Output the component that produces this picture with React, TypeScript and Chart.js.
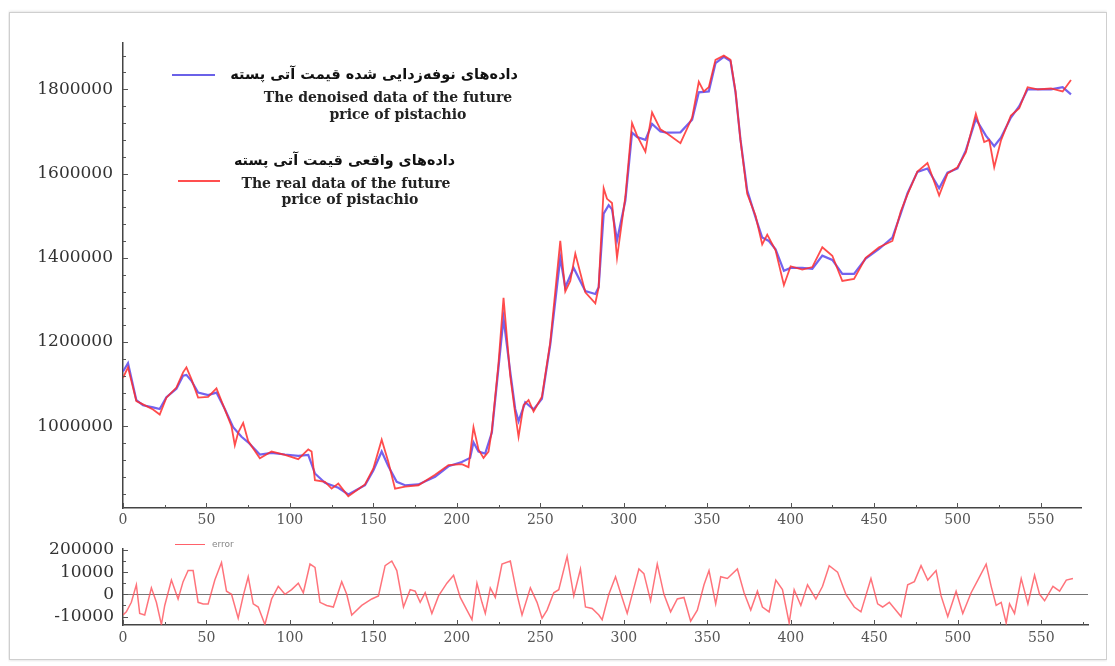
import React, { useEffect, useRef } from 'react';
import { Chart, registerables } from 'chart.js';

Chart.register(...registerables);

// ---------- data ----------
const denoisedX = [0, 3, 8, 12, 18, 22, 26, 32, 36, 38, 41, 45, 51, 56, 61, 66, 71, 75, 82, 89, 97, 105, 111, 115, 121, 129, 135, 145, 150, 155, 159, 164, 169, 177, 187, 195, 203, 208, 210, 213, 217, 221, 225, 228, 232, 235, 237, 241, 246, 251, 256, 262, 265, 270, 277, 283, 285, 288, 291, 293, 296, 301, 305, 308, 313, 317, 322, 326, 334, 341, 345, 351, 355, 360, 364, 367, 370, 374, 379, 383, 387, 391, 396, 400, 407, 413, 419, 425, 431, 438, 445, 453, 461, 466, 470, 476, 482, 489, 494, 500, 505, 511, 517, 522, 526, 532, 537, 542, 548, 556, 563, 568];
const denoisedY = [1130000, 1150000, 1062000, 1050000, 1045000, 1041000, 1069000, 1089000, 1120000, 1122000, 1108000, 1080000, 1074000, 1080000, 1041000, 998000, 975000, 962000, 933000, 937000, 933000, 930000, 932000, 888000, 866000, 854000, 838000, 860000, 895000, 940000, 905000, 868000, 860000, 862000, 880000, 905000, 915000, 925000, 962000, 940000, 935000, 985000, 1140000, 1256000, 1130000, 1041000, 1012000, 1057000, 1040000, 1065000, 1194000, 1400000, 1330000, 1376000, 1321000, 1314000, 1330000, 1505000, 1525000, 1515000, 1441000, 1536000, 1697000, 1687000, 1680000, 1718000, 1700000, 1697000, 1698000, 1728000, 1793000, 1795000, 1862000, 1877000, 1867000, 1793000, 1680000, 1560000, 1496000, 1448000, 1440000, 1420000, 1369000, 1376000, 1376000, 1374000, 1405000, 1395000, 1362000, 1362000, 1398000, 1421000, 1448000, 1505000, 1553000, 1604000, 1612000, 1565000, 1602000, 1612000, 1655000, 1730000, 1690000, 1665000, 1685000, 1733000, 1760000, 1800000, 1800000, 1800000, 1805000, 1788000];

const realX = [0, 3, 8, 12, 18, 22, 26, 32, 36, 38, 41, 45, 51, 56, 61, 65, 67, 69, 72, 75, 82, 89, 97, 105, 111, 113, 115, 121, 125, 129, 135, 145, 150, 155, 159, 163, 169, 177, 187, 195, 203, 207, 210, 213, 216, 219, 221, 225, 228, 232, 235, 237, 240, 243, 246, 251, 256, 262, 265, 268, 271, 277, 283, 285, 288, 290, 293, 296, 301, 305, 308, 313, 317, 322, 326, 334, 341, 345, 348, 351, 355, 360, 364, 367, 370, 374, 379, 383, 386, 391, 396, 400, 407, 413, 419, 425, 431, 438, 445, 453, 461, 466, 470, 476, 482, 489, 494, 500, 505, 511, 516, 519, 522, 526, 532, 537, 542, 548, 556, 563, 568];
const realY = [1115000, 1140000, 1060000, 1052000, 1040000, 1028000, 1068000, 1092000, 1128000, 1140000, 1112000, 1068000, 1070000, 1090000, 1040000, 1000000, 955000, 985000, 1008000, 965000, 924000, 940000, 932000, 922000, 945000, 940000, 872000, 868000, 852000, 864000, 834000, 862000, 900000, 968000, 915000, 852000, 857000, 860000, 885000, 908000, 910000, 903000, 998000, 945000, 925000, 940000, 990000, 1150000, 1305000, 1120000, 1030000, 975000, 1050000, 1062000, 1035000, 1070000, 1200000, 1440000, 1320000, 1345000, 1410000, 1318000, 1292000, 1330000, 1565000, 1540000, 1530000, 1400000, 1545000, 1720000, 1690000, 1652000, 1745000, 1705000, 1695000, 1672000, 1733000, 1818000, 1795000, 1805000, 1870000, 1880000, 1870000, 1795000, 1678000, 1552000, 1500000, 1432000, 1455000, 1418000, 1335000, 1380000, 1372000, 1378000, 1425000, 1405000, 1345000, 1350000, 1400000, 1425000, 1440000, 1510000, 1550000, 1605000, 1625000, 1548000, 1600000, 1615000, 1650000, 1742000, 1675000, 1680000, 1615000, 1678000, 1738000, 1755000, 1805000, 1800000, 1802000, 1795000, 1822000];

const errorX = [0, 2, 5, 8, 10, 13, 17, 20, 23, 25, 29, 33, 36, 39, 42, 45, 48, 51, 55, 59, 62, 65, 69, 72, 75, 78, 81, 85, 89, 93, 97, 101, 105, 108, 112, 115, 118, 122, 126, 131, 134, 137, 143, 149, 153, 157, 161, 164, 168, 172, 175, 178, 181, 185, 189, 194, 198, 202, 206, 209, 212, 215, 217, 220, 223, 227, 232, 236, 239, 244, 248, 251, 254, 258, 261, 266, 270, 274, 277, 281, 285, 287, 291, 295, 298, 302, 305, 309, 312, 316, 320, 324, 328, 332, 336, 340, 344, 348, 351, 355, 358, 362, 368, 372, 376, 380, 383, 387, 391, 395, 399, 402, 406, 410, 415, 419, 423, 428, 433, 438, 442, 448, 452, 455, 459, 466, 470, 474, 478, 482, 487, 490, 494, 499, 503, 508, 512, 517, 520, 523, 526, 529, 531, 534, 538, 542, 546, 549, 552, 557, 561, 565, 569];
const errorY = [-9300, -7900, -3600, 4300, -8600, -9300, 2900, -3600, -13600, -5000, 6400, -2100, 5700, 10700, 10700, -3600, -4300, -4300, 6400, 14300, 1400, 0, -10700, -700, 7900, -4300, -5700, -13600, -2100, 3600, 0, 2100, 5000, 700, 13600, 12100, -3600, -5000, -5700, 5700, 0, -9300, -5000, -2100, -700, 12900, 15000, 10700, -5700, 2100, 1400, -3600, 700, -8600, -700, 5000, 8600, -1400, -7100, -11400, 5000, -3600, -8600, 2900, -1400, 13600, 15000, 0, -9300, 2900, -3600, -10700, -7100, 700, 2100, 17100, -700, 11400, -5700, -6400, -9300, -11400, 0, 7900, 700, -8600, 0, 11400, 9300, -2900, 13600, 0, -7900, -2100, -1400, -12100, -7100, 4300, 10700, -4300, 7900, 7100, 11400, 700, -7100, 1400, -5700, -7900, 6400, 2100, -12900, 2100, -5000, 4300, -2100, 3600, 12900, 10000, 0, -5700, -7900, 7100, -4300, -5700, -3600, -10000, 4300, 5700, 12900, 6400, 10700, -700, -10000, 1400, -8600, 700, 6400, 13600, 3600, -5000, -3600, -12900, -4300, -8600, 7100, -4300, 8600, 0, -2900, 3600, 1400, 6400, 7100];

// tick values / labels
const xTickValues = [0, 50, 100, 150, 200, 250, 300, 350, 400, 450, 500, 550];
const xTickLabels = ['0', '50', '100', '150', '200', '250', '300', '350', '400', '450', '500', '550'];
const xMinorStep = 25;
const topYTickValues = [1000000, 1200000, 1400000, 1600000, 1800000];
const topYTickLabels = ['1000000', '1200000', '1400000', '1600000', '1800000'];
const topYMinorStep = 40000;
const bottomYTickValues = [-10000, 0, 10000, 20000];
const bottomYTickLabels = ['-10000', '0', '10000', '200000'];
const bottomYMinorStep = 5000;

const legendDenoisedFa = 'داده‌های نوفه‌زدایی شده قیمت آتی پسته';
const legendDenoisedEn1 = 'The denoised data of the future';
const legendDenoisedEn2 = 'price of pistachio';
const legendRealFa = 'داده‌های واقعی قیمت آتی پسته';
const legendRealEn1 = 'The real data of the future';
const legendRealEn2 = 'price of pistachio';
const legendError = 'error';

// ---------- helpers ----------
const toPoints = (xs: number[], ys: number[]) => xs.map((x, i) => ({ x, y: ys[i] }));

// builds a tick list: every multiple of `step` inside [min,max], flagged major when in `majors`
function buildTicks(scale: any, step: number, majors: number[], labels: string[]) {
  const out: any[] = [];
  const start = Math.ceil(scale.min / step) * step;
  for (let v = start; v <= scale.max + 1e-9; v += step) {
    const i = majors.indexOf(v);
    out.push({ value: v, major: i >= 0, label: i >= 0 ? labels[i] : '' });
  }
  scale.ticks = out;
}

const inwardTicks = {
  id: 'inwardTicks',
  afterDatasetsDraw(chart: any) {
    const { ctx, chartArea: a } = chart;
    ctx.save();
    ctx.strokeStyle = '#555';
    ctx.lineWidth = 1;
    const xs = chart.scales.x;
    xs.ticks.forEach((t: any) => {
      const p = Math.round(xs.getPixelForValue(t.value)) + 0.5;
      const len = t.major ? 5 : 3;
      ctx.beginPath();
      ctx.moveTo(p, a.bottom);
      ctx.lineTo(p, a.bottom - len);
      ctx.stroke();
    });
    const ys = chart.scales.y;
    ys.ticks.forEach((t: any) => {
      const p = Math.round(ys.getPixelForValue(t.value)) + 0.5;
      const len = t.major ? 5 : 3;
      ctx.beginPath();
      ctx.moveTo(a.left, p);
      ctx.lineTo(a.left + len, p);
      ctx.stroke();
    });
    ctx.restore();
  },
};

const yFont = { family: 'DejaVu Serif', size: 17 };
const xFont = { family: 'DejaVu Serif', size: 14 };

const labelCb = function (this: any, _v: any, i: number) {
  const t = this.ticks[i];
  return t ? t.label : '';
};

export default function App() {
  const topRef = useRef<HTMLCanvasElement>(null);
  const botRef = useRef<HTMLCanvasElement>(null);

  useEffect(() => {
    const top = new Chart(topRef.current as HTMLCanvasElement, {
      type: 'line',
      data: {
        datasets: [
          {
            label: 'real',
            data: toPoints(realX, realY),
            borderColor: 'rgba(255,45,45,0.85)',
            borderWidth: 1.8,
            pointRadius: 0,
            tension: 0,
          },
          {
            label: 'denoised',
            data: toPoints(denoisedX, denoisedY),
            borderColor: 'rgba(80,60,235,0.8)',
            borderWidth: 2.2,
            pointRadius: 0,
            tension: 0,
          },
        ],
      },
      options: {
        animation: false,
        responsive: false,
        layout: { padding: { left: 0, top: 23, right: 27, bottom: 0 } },
        plugins: {
          legend: { display: false },
          tooltip: { enabled: false },
        },
        scales: {
          x: {
            type: 'linear',
            min: 0,
            max: 574,
            afterBuildTicks: (s: any) => buildTicks(s, xMinorStep, xTickValues, xTickLabels),
            afterFit: (s: any) => { s.height = 32; },
            grid: { display: true, drawOnChartArea: false, drawTicks: false },
            border: { display: true, color: '#444', width: 1.5 },
            ticks: {
              autoSkip: false,
              maxRotation: 0,
              padding: 4,
              color: '#555',
              font: xFont,
              callback: labelCb,
            },
          },
          y: {
            type: 'linear',
            min: 806000,
            max: 1910000,
            afterBuildTicks: (s: any) => buildTicks(s, topYMinorStep, topYTickValues, topYTickLabels),
            afterFit: (s: any) => { s.width = 115; },
            grid: { display: true, drawOnChartArea: false, drawTicks: false },
            border: { display: true, color: '#444', width: 1.5 },
            ticks: {
              autoSkip: false,
              padding: 10,
              color: '#333',
              font: yFont,
              callback: labelCb,
            },
          },
        },
      },
      plugins: [inwardTicks],
    });

    const bottom = new Chart(botRef.current as HTMLCanvasElement, {
      type: 'line',
      data: {
        datasets: [
          {
            label: 'error',
            data: toPoints(errorX, errorY),
            borderColor: 'rgba(255,80,90,0.8)',
            borderWidth: 1.5,
            pointRadius: 0,
            tension: 0,
          },
        ],
      },
      options: {
        animation: false,
        responsive: false,
        layout: { padding: { left: 0, top: 16, right: 20, bottom: 0 } },
        plugins: {
          legend: { display: false },
          tooltip: { enabled: false },
        },
        scales: {
          x: {
            type: 'linear',
            min: 0,
            max: 578,
            afterBuildTicks: (s: any) => buildTicks(s, xMinorStep, xTickValues, xTickLabels),
            afterFit: (s: any) => { s.height = 30; },
            grid: { display: true, drawOnChartArea: false, drawTicks: false },
            border: { display: true, color: '#444', width: 1.5 },
            ticks: {
              autoSkip: false,
              maxRotation: 0,
              padding: 5,
              color: '#555',
              font: xFont,
              callback: labelCb,
            },
          },
          y: {
            type: 'linear',
            min: -13800,
            max: 20300,
            afterBuildTicks: (s: any) => buildTicks(s, bottomYMinorStep, bottomYTickValues, bottomYTickLabels),
            afterFit: (s: any) => { s.width = 115; },
            grid: {
              display: true,
              drawOnChartArea: true,
              drawTicks: false,
              color: (c: any) => (c.tick && c.tick.value === 0 ? '#777' : 'rgba(0,0,0,0)'),
              lineWidth: 1,
            },
            border: { display: true, color: '#444', width: 1.5 },
            ticks: {
              autoSkip: false,
              padding: 9,
              color: '#333',
              font: yFont,
              callback: labelCb,
            },
          },
        },
      },
      plugins: [inwardTicks],
    });

    return () => {
      top.destroy();
      bottom.destroy();
    };
  }, []);

  const enStyle: React.CSSProperties = {
    position: 'absolute',
    fontFamily: 'DejaVu Serif',
    fontWeight: 'bold',
    fontSize: 14,
    color: '#222',
    whiteSpace: 'nowrap',
    transform: 'translateX(-50%)',
    lineHeight: '16px',
  };
  const faStyle: React.CSSProperties = {
    position: 'absolute',
    fontFamily: 'DejaVu Sans',
    fontWeight: 'bold',
    fontSize: 14.5,
    color: '#111',
    whiteSpace: 'nowrap',
    direction: 'rtl',
    textAlign: 'right',
    lineHeight: '18px',
  };

  return (
    <div style={{ position: 'relative', width: 1100, height: 654 }}>
      <div
        style={{
          position: 'absolute',
          left: 1,
          top: 4,
          width: 1098,
          height: 648,
          border: '1px solid #cfcfcf',
          boxShadow: '0 0 3px rgba(0,0,0,0.18)',
          boxSizing: 'border-box',
        }}
      />
      <canvas
        ref={topRef}
        width={1100}
        height={520}
        style={{ position: 'absolute', left: 0, top: 12, width: 1100, height: 520 }}
      />
      <canvas
        ref={botRef}
        width={1100}
        height={125}
        style={{ position: 'absolute', left: 0, top: 522, width: 1100, height: 125 }}
      />

      {/* legend: denoised */}
      <div style={{ position: 'absolute', left: 164, top: 66, width: 43, height: 2, background: 'rgba(90,80,230,0.9)' }} />
      <div style={{ ...faStyle, right: 1100 - 510, top: 57 }}>{legendDenoisedFa}</div>
      <div style={{ ...enStyle, left: 380, top: 81 }}>{legendDenoisedEn1}</div>
      <div style={{ ...enStyle, left: 390, top: 98 }}>{legendDenoisedEn2}</div>

      {/* legend: real */}
      <div style={{ position: 'absolute', left: 170, top: 172, width: 42, height: 2, background: 'rgba(255,60,60,0.9)' }} />
      <div style={{ ...faStyle, fontSize: 14.3, right: 1100 - 447, top: 143 }}>{legendRealFa}</div>
      <div style={{ ...enStyle, left: 338, top: 167 }}>{legendRealEn1}</div>
      <div style={{ ...enStyle, left: 342, top: 183 }}>{legendRealEn2}</div>

      {/* legend: error */}
      <div style={{ position: 'absolute', left: 167, top: 536, width: 30, height: 1, background: 'rgba(255,80,90,0.9)' }} />
      <div
        style={{
          position: 'absolute',
          left: 204,
          top: 531,
          fontFamily: 'DejaVu Sans',
          fontSize: 9,
          color: '#888',
          lineHeight: '11px',
        }}
      >
        {legendError}
      </div>
    </div>
  );
}
